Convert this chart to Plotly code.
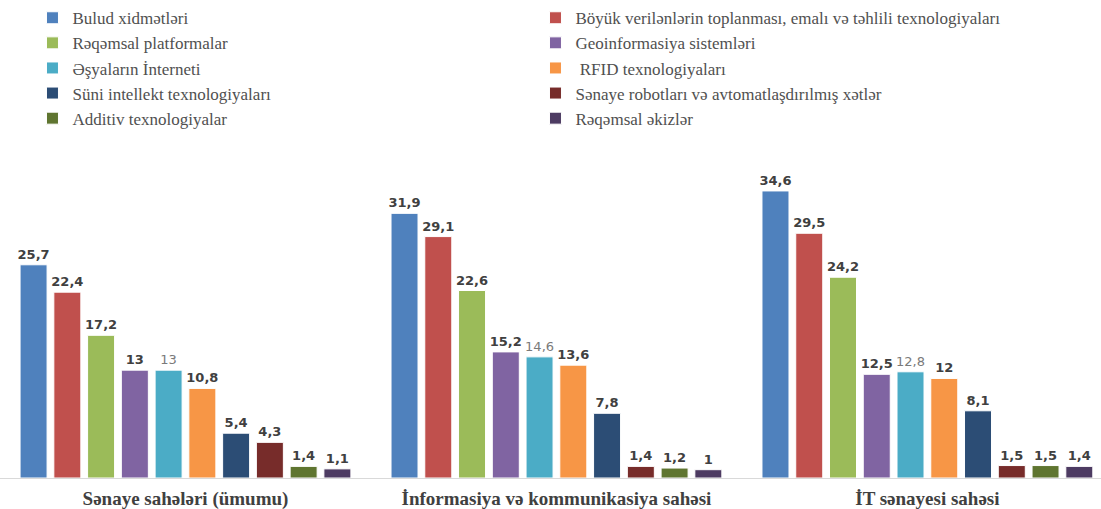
import plotly.graph_objects as go

# Sectors shown on the category axis
sectors = ["Sənaye sahələri (ümumu)",
           "İnformasiya və kommunikasiya sahəsi",
           "İT sənayesi sahəsi"]

# Technology series (legend order, row by row)
tech_names = [
    "Bulud xidmətləri",
    "Böyük verilənlərin toplanması, emalı və təhlili texnologiyaları",
    "Rəqəmsal platformalar",
    "Geoinformasiya sistemləri",
    "Əşyaların İnterneti",
    " RFID texnologiyaları",
    "Süni intellekt texnologiyaları",
    "Sənaye robotları və avtomatlaşdırılmış xətlər",
    "Additiv texnologiyalar",
    "Rəqəmsal əkizlər",
]

bulud = [25.7, 31.9, 34.6]
boyuk_verilenler = [22.4, 29.1, 29.5]
reqemsal_platformalar = [17.2, 22.6, 24.2]
geoinformasiya = [13, 15.2, 12.5]
esyalarin_interneti = [13, 14.6, 12.8]
rfid = [10.8, 13.6, 12]
suni_intellekt = [5.4, 7.8, 8.1]
senaye_robotlari = [4.3, 1.4, 1.5]
additiv = [1.4, 1.2, 1.5]
reqemsal_ekizler = [1.1, 1, 1.4]

series_values = [bulud, boyuk_verilenler, reqemsal_platformalar, geoinformasiya,
                 esyalarin_interneti, rfid, suni_intellekt, senaye_robotlari,
                 additiv, reqemsal_ekizler]

colors = ["#4F81BD", "#C0504D", "#9BBB59", "#8064A2", "#4BACC6",
          "#F79646", "#2C4D75", "#772C2A", "#5F7530", "#4D3B62"]


def fmt(v):
    # decimal comma, no trailing ",0"
    return ("%g" % v).replace(".", ",")


fig = go.Figure()
for i, (name, vals, col) in enumerate(zip(tech_names, series_values, colors)):
    light = (i == 4)
    fig.add_trace(go.Bar(
        name=name,
        x=sectors,
        y=vals,
        marker=dict(color=col, line=dict(color="#ffffff", width=1)),
        text=[fmt(v) for v in vals],
        textposition="outside",
        constraintext="none",
        textfont=dict(
            family="DejaVu Sans",
            size=13,
            color="#7a7a7a" if light else "#404040",
            weight="normal" if light else "bold",
        ),
        cliponaxis=False,
    ))

fig.update_layout(
    width=1101,
    height=509,
    margin=dict(l=0, r=0, t=140, b=31),
    paper_bgcolor="white",
    plot_bgcolor="white",
    barmode="group",
    bargap=0.09,
    bargroupgap=0.2,
    showlegend=True,
    legend=dict(
        orientation="h",
        x=0.0295,
        xanchor="left",
        y=1.422,
        yanchor="top",
        entrywidth=458,
        entrywidthmode="pixels",
        font=dict(family="Liberation Serif", size=17, color="#505050"),
        itemclick=False,
        itemdoubleclick=False,
        traceorder="normal",
    ),
    xaxis=dict(
        type="category",
        range=[-0.5, 2.468],
        automargin=False,
        showline=True,
        linecolor="#d9d9d9",
        linewidth=1,
        ticks="",
        showgrid=False,
        tickfont=dict(family="Liberation Serif", size=19, color="#404040", weight="bold"),
        ticklabelstandoff=3,
    ),
    yaxis=dict(
        range=[0, 40.5],
        visible=False,
        automargin=False,
        showgrid=False,
        zeroline=False,
    ),
)

fig.write_html("out.html")
